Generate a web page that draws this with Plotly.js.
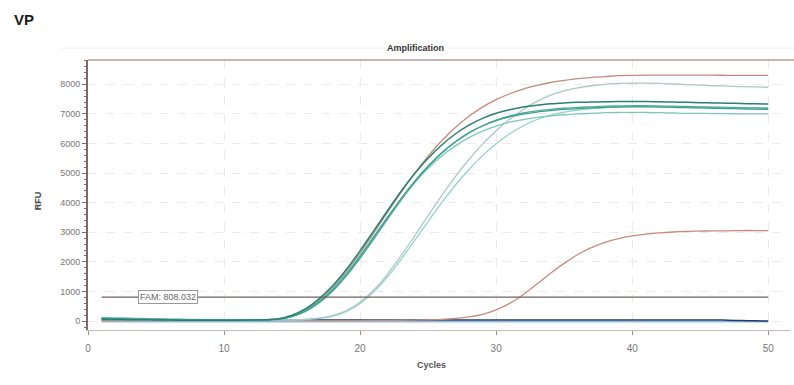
<!DOCTYPE html>
<html>
<head>
<meta charset="utf-8">
<script src="https://cdn.plot.ly/plotly-3.0.1.min.js"></script>
<style>html,body{margin:0;padding:0;background:#fff;}#chart{width:794px;height:385px;}</style>
</head>
<body>
<div id="chart"></div>
<script>
const cycles = [1,2,3,4,5,6,7,8,9,10,11,12,13,14,15,16,17,18,19,20,21,22,23,24,25,26,27,28,29,30,31,32,33,34,35,36,37,38,39,40,41,42,43,44,45,46,47,48,49,50];

const earlyTeal1 = [60,55,50,45,40,35,30,30,30,30,30,35,45,80,200,420,760,1200,1750,2380,3050,3720,4380,4980,5500,5950,6320,6620,6850,7020,7140,7230,7290,7340,7370,7390,7400,7410,7420,7420,7420,7410,7400,7390,7380,7370,7360,7350,7340,7330];
const earlyTeal2 = [90,80,70,60,55,50,45,40,40,40,40,40,45,65,160,350,650,1060,1580,2180,2830,3490,4130,4720,5240,5690,6060,6360,6590,6770,6900,6990,7060,7110,7150,7180,7200,7220,7230,7240,7240,7230,7220,7210,7200,7190,7180,7170,7160,7150];
const earlyTeal3 = [120,110,100,90,80,70,60,55,50,45,45,45,50,70,170,370,680,1100,1620,2220,2860,3500,4110,4670,5160,5580,5920,6200,6420,6590,6720,6810,6880,6930,6970,7000,7020,7040,7050,7050,7050,7040,7030,7020,7020,7010,7010,7000,7000,7000];
const earlyTeal4 = [100,95,90,80,70,60,55,50,45,40,40,40,45,60,150,330,620,1020,1530,2120,2770,3430,4080,4680,5210,5670,6050,6360,6600,6790,6930,7030,7100,7150,7190,7220,7240,7260,7270,7280,7280,7270,7260,7250,7240,7230,7220,7210,7200,7190];
const earlyRed = [80,70,60,55,50,45,40,35,35,35,35,40,50,75,180,390,710,1140,1680,2300,2970,3660,4340,4980,5570,6090,6540,6920,7230,7480,7680,7840,7960,8060,8130,8190,8230,8260,8290,8300,8310,8310,8310,8310,8310,8310,8300,8300,8300,8300];
const lateTeal1 = [70,65,60,55,50,45,40,40,35,35,35,35,35,40,45,60,100,190,360,640,1050,1580,2200,2870,3560,4240,4880,5460,5980,6430,6820,7150,7420,7630,7780,7880,7950,8000,8030,8040,8040,8030,8010,7990,7970,7950,7940,7920,7910,7900];
const lateTeal2 = [60,55,50,45,40,40,35,35,30,30,30,30,30,35,40,55,90,170,330,600,990,1490,2080,2720,3370,4000,4590,5120,5590,5990,6330,6600,6810,6960,7060,7130,7180,7210,7240,7250,7250,7240,7230,7220,7210,7210,7200,7200,7200,7200];
const lateRed = [20,20,20,20,20,20,20,20,20,20,20,20,20,20,20,20,20,20,20,20,25,25,30,35,45,60,90,140,230,380,600,900,1250,1620,1950,2250,2480,2660,2790,2880,2940,2980,3010,3030,3040,3050,3050,3060,3060,3060];
const flatNavy = [40,40,40,40,40,40,40,40,40,40,40,40,40,40,40,40,40,40,40,40,40,40,40,40,40,40,40,40,40,40,40,40,40,40,40,40,40,40,40,40,40,40,40,40,40,40,30,20,10,0];
const flatBlue = [-20,-20,-20,-20,-20,-20,-20,-20,-20,-20,-20,-20,-20,-20,-20,-20,-20,-20,-20,-20,-20,-20,-20,-20,-20,-20,-20,-20,-20,-20,-20,-20,-20,-20,-20,-20,-20,-20,-20,-20,-20,-20,-20,-20,-20,-20,-20,-20,-20,-20];
const thresholdValue = 808.032;
const thresholdLabel = "FAM: 808.032";
const xTicks = [0,10,20,30,40,50];
const yTicks = [0,1000,2000,3000,4000,5000,6000,7000,8000];

function line(y, color, width) {
  return {x: cycles, y: y, type: 'scatter', mode: 'lines', line: {color: color, width: width || 1.3, shape: 'spline'}, hoverinfo: 'skip', showlegend: false};
}

const traces = [
  line(flatBlue, '#8fbfe0', 1.5),
  line(flatNavy, '#1f3a66', 1.5),
  line(lateRed, '#c98a7a', 1.3),
  line(lateTeal2, '#92d2c8', 1.3),
  line(lateTeal1, '#a9c9c4', 1.3),
  line(earlyRed, '#c48a7c', 1.3),
  line(earlyTeal3, '#7cc8bc', 1.3),
  line(earlyTeal4, '#4fae9f', 1.3),
  line(earlyTeal2, '#3f9f90', 1.3),
  line(earlyTeal1, '#2a7f72', 1.5),
  {x: [cycles[0], cycles[cycles.length-1]], y: [thresholdValue, thresholdValue], type: 'scatter', mode: 'lines', line: {color: '#6e625e', width: 1.3}, hoverinfo: 'skip', showlegend: false}
];

const layout = {
  width: 794, height: 385,
  margin: {l: 88, r: 4, t: 60, b: 55},
  paper_bgcolor: '#ffffff', plot_bgcolor: '#ffffff',
  font: {family: 'Liberation Sans, Arial, sans-serif', color: '#777', size: 9},
  title: {text: '<b>VP</b>', x: 14/794, xanchor: 'left', y: 1 - 20/385, yanchor: 'middle', font: {size: 15, color: '#1a1a1a', family: 'Liberation Sans, Arial, sans-serif'}},
  xaxis: {
    range: [0, 51.6], tickvals: xTicks, ticktext: xTicks.map(String),
    showline: true, linecolor: '#c9c0be', linewidth: 1,
    ticks: 'outside', ticklen: 4, tickcolor: '#9a8f8c', ticklabelstandoff: 5,
    showgrid: true, gridcolor: '#efe9e9', griddash: 'dash', gridwidth: 1,
    zeroline: false, tickfont: {size: 10, color: '#777'}
  },
  yaxis: {
    range: [-300, 8820], tickvals: yTicks, ticktext: yTicks.map(String),
    showline: true, linecolor: '#7d6a64', linewidth: 2,
    ticks: 'outside', ticklen: 4, tickcolor: '#7d6a64',
    minor: {ticks: 'outside', ticklen: 2, tickcolor: '#7d6a64', dtick: 200, showgrid: false},
    showgrid: true, gridcolor: '#efe9e9', griddash: 'dash', gridwidth: 1,
    zeroline: false, tickfont: {size: 9, color: '#777'}
  },
  shapes: [
    {type: 'line', xref: 'paper', yref: 'paper', x0: 0, x1: 1.01, y0: 1, y1: 1, line: {color: '#b79e98', width: 1.5}},
    {type: 'line', xref: 'paper', yref: 'paper', x0: -0.04, x1: 1.01, y0: 1.044, y1: 1.044, line: {color: '#f1eded', width: 1}}
  ],
  annotations: [
    {text: '<b>Amplification</b>', xref: 'paper', yref: 'paper', x: 0.466, y: 1.044, yanchor: 'middle', showarrow: false, font: {size: 9, color: '#333'}, bgcolor: '#fff'},
    {text: '<b>RFU</b>', xref: 'paper', yref: 'paper', x: -0.08, y: 0.48, yanchor: 'middle', textangle: -90, showarrow: false, font: {size: 9, color: '#444'}},
    {text: '<b>Cycles</b>', xref: 'paper', yref: 'paper', x: 0.49, y: -0.13, yanchor: 'middle', showarrow: false, font: {size: 9, color: '#555'}},
    {text: thresholdLabel, xref: 'x', yref: 'y', x: 5.9, y: thresholdValue, yanchor: 'middle', showarrow: false, font: {size: 9, color: '#666'}, bgcolor: '#ffffff', bordercolor: '#999', borderwidth: 1, borderpad: 1}
  ]
};

Plotly.newPlot('chart', traces, layout, {staticPlot: true, displayModeBar: false});
</script>
</body>
</html>
